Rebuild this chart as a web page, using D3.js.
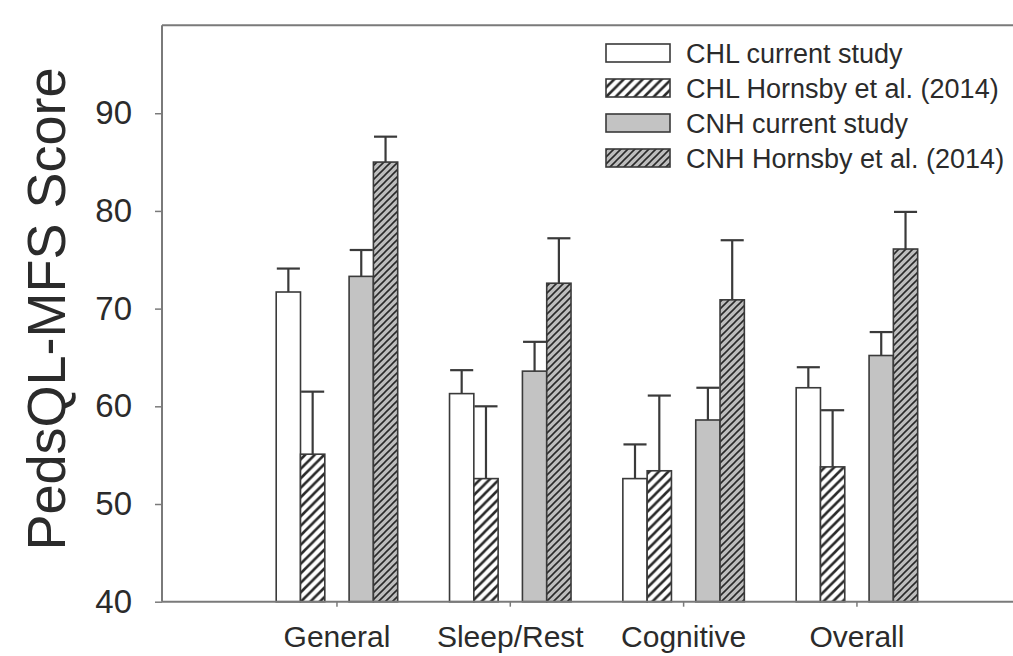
<!DOCTYPE html>
<html>
<head>
<meta charset="utf-8">
<script src="https://cdn.jsdelivr.net/npm/d3@7"></script>
<style>
html,body{margin:0;padding:0;background:#fff;}
svg{display:block;}
text{font-family:"Liberation Sans",Arial,sans-serif;fill:#2b2b2b;}
</style>
</head>
<body>
<svg id="chart" width="1013" height="656"></svg>
<script>
// ---- data ----
const categories = ["General", "Sleep/Rest", "Cognitive", "Overall"];
const seriesNames = ["CHL current study", "CHL Hornsby et al. (2014)", "CNH current study", "CNH Hornsby et al. (2014)"];
const chlCurrent = [71.7, 61.3, 52.6, 61.9];
const chlHornsby = [55.1, 52.6, 53.4, 53.8];
const cnhCurrent = [73.3, 63.6, 58.6, 65.2];
const cnhHornsby = [85.0, 72.6, 70.9, 76.1];
const chlCurrentErr = [2.4, 2.4, 3.5, 2.1];
const chlHornsbyErr = [6.4, 7.4, 7.7, 5.8];
const cnhCurrentErr = [2.7, 3.0, 3.3, 2.4];
const cnhHornsbyErr = [2.6, 4.6, 6.1, 3.8];
const yTicks = [40, 50, 60, 70, 80, 90];
const yLabel = "PedsQL-MFS Score";

const seriesValues = [chlCurrent, chlHornsby, cnhCurrent, cnhHornsby];
const seriesErrs = [chlCurrentErr, chlHornsbyErr, cnhCurrentErr, cnhHornsbyErr];
const seriesFill = ["#ffffff", "url(#hatchWhite)", "#c3c3c3", "url(#hatchGray)"];
const slots = ["s0", "s1", "gap", "s2", "s3"];
const seriesSlot = ["s0", "s1", "s2", "s3"];

const svg = d3.select("#chart");
const axisColor = "#7a7a7a";
const barStroke = "#3a3a3a";

// patterns
const defs = svg.append("defs");
function hatch(id, bg, size, sw) {
  const p = defs.append("pattern").attr("id", id).attr("patternUnits", "userSpaceOnUse")
    .attr("width", size).attr("height", size);
  p.append("rect").attr("width", size).attr("height", size).attr("fill", bg);
  p.append("path")
    .attr("d", `M${-size/2},${size/2} L${size/2},${-size/2} M0,${size} L${size},0 M${size/2},${size*1.5} L${size*1.5},${size/2}`)
    .attr("stroke", "#2a2a2a").attr("stroke-width", sw);
}
hatch("hatchWhite", "#ffffff", 9.5, 2.6);
hatch("hatchGray", "#bdbdbd", 7, 1.6);

// scales
const x0 = 162, xRight = 1013, yBottom = 601.7, yTop = 25.3;
const y = d3.scaleLinear().domain([40, 99]).range([yBottom, yTop]);
const x = d3.scaleBand().domain(categories).range([250.3, 943.6]).padding(0);
const xs = d3.scaleBand().domain(slots).range([25.9, 147.4]).padding(0);

// frame line (top)
svg.append("line").attr("x1", x0).attr("x2", xRight).attr("y1", yTop).attr("y2", yTop)
  .attr("stroke", axisColor).attr("stroke-width", 2);

// bars
const barsData = [];
categories.forEach((c, ci) => {
  seriesValues.forEach((vals, si) => {
    barsData.push({cat: c, si: si, v: vals[ci], e: seriesErrs[si][ci]});
  });
});

const gBars = svg.append("g");
gBars.selectAll("rect.bar").data(barsData).join("rect")
  .attr("class", "bar")
  .attr("x", d => x(d.cat) + xs(seriesSlot[d.si]))
  .attr("width", xs.bandwidth())
  .attr("y", d => y(d.v))
  .attr("height", d => y(40) - y(d.v))
  .attr("fill", d => seriesFill[d.si])
  .attr("stroke", barStroke).attr("stroke-width", 1.6);

// error bars
const gErr = svg.append("g").attr("stroke", "#3a3a3a").attr("stroke-width", 2.2);
barsData.forEach(d => {
  const cx = x(d.cat) + xs(seriesSlot[d.si]) + xs.bandwidth() / 2;
  const w = xs.bandwidth() * 0.95;
  gErr.append("line").attr("x1", cx).attr("x2", cx).attr("y1", y(d.v)).attr("y2", y(d.v + d.e));
  gErr.append("line").attr("x1", cx - w/2).attr("x2", cx + w/2).attr("y1", y(d.v + d.e)).attr("y2", y(d.v + d.e));
});

// y axis
const yAxis = d3.axisLeft(y).tickValues(yTicks).tickSize(7).tickPadding(23).tickFormat(d3.format("d"));
const gy = svg.append("g").attr("transform", `translate(${x0},0)`).call(yAxis);
gy.select(".domain").attr("stroke", axisColor).attr("stroke-width", 2)
  .attr("d", `M0,${yTop}V${yBottom}`);
gy.selectAll(".tick line").attr("stroke", axisColor).attr("stroke-width", 1.5);
gy.selectAll(".tick text").attr("font-size", 33).attr("fill", "#2b2b2b")
  .style("font-family", '"Liberation Sans",Arial,sans-serif');

// x axis
const xAxis = d3.axisBottom(x).tickSize(5).tickPadding(19);
const gx = svg.append("g").attr("transform", `translate(0,${yBottom})`).call(xAxis);
gx.select(".domain").attr("stroke", axisColor).attr("stroke-width", 2)
  .attr("d", `M${x0},0H${xRight}`);
gx.selectAll(".tick line").attr("stroke", axisColor).attr("stroke-width", 1.5);
gx.selectAll(".tick text").attr("font-size", 30).attr("fill", "#2b2b2b")
  .attr("dy", "0.71em")
  .style("font-family", '"Liberation Sans",Arial,sans-serif');

// y label
svg.append("text").attr("transform", `translate(65,309) rotate(-90)`)
  .attr("text-anchor", "middle").attr("font-size", 54).text(yLabel);

// legend
const legRows = [53, 88, 123, 158];
const leg = svg.append("g");
seriesNames.forEach((n, i) => {
  leg.append("rect").attr("x", 606).attr("y", legRows[i] - 9).attr("width", 64).attr("height", 18)
    .attr("fill", seriesFill[i]).attr("stroke", barStroke).attr("stroke-width", 1.6);
  leg.append("text").attr("x", 686).attr("y", legRows[i]).attr("dy", "0.36em")
    .attr("font-size", 27).text(n);
});
</script>
</body>
</html>
